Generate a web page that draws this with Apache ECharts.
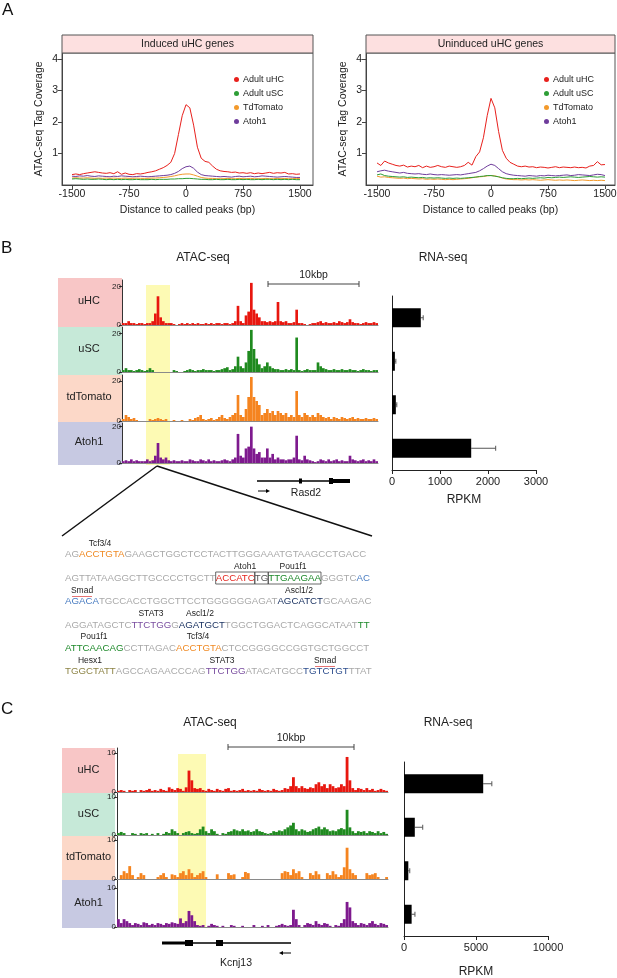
<!DOCTYPE html>
<html>
<head>
<meta charset="utf-8">
<script src="https://cdn.jsdelivr.net/npm/echarts@6/dist/echarts.min.js"></script>
<style>
  html, body { margin: 0; padding: 0; background: #fff; }
  #main { width: 617px; height: 978px; }
</style>
</head>
<body>
<div id="main"></div>
<script>
const FONT = 'Liberation Sans, Arial, sans-serif';

// ---- panel A: ATAC coverage around called peaks ----
const distBp = [
  -1500, -1450, -1400, -1350, -1300, -1250, -1200, -1150, -1100, -1050,
  -1000, -950, -900, -850, -800, -750, -700, -650, -600, -550,
  -500, -450, -400, -350, -300, -250, -200, -150, -100, -50,
  0, 50, 100, 150, 200, 250, 300, 350, 400, 450,
  500, 550, 600, 650, 700, 750, 800, 850, 900, 950,
  1000, 1050, 1100, 1150, 1200, 1250, 1300, 1350, 1400, 1450, 1500
];
const profileNames = ['Adult uHC', 'Adult uSC', 'TdTomato', 'Atoh1'];
const profileColors = ['#e8201c', '#2e9e36', '#f39a2c', '#6f3d9c'];

const inducedUHC = [
  .33, .35, .33, .36, .38, .40, .42, .40, .38, .37,
  .39, .36, .42, .34, .38, .34, .33, .36, .35, .37,
  .40, .42, .45, .50, .55, .62, .72, 1.0, 1.6, 2.2,
  2.55, 2.45, 1.9, 1.2, .85, .75, .72, .60, .50, .45,
  .43, .42, .40, .41, .38, .39, .37, .39, .36, .38,
  .36, .38, .40, .37, .39, .38, .40, .35, .36, .34, .35
];
const inducedUSC = [
  .19, .20, .19, .18, .19, .18, .18, .19, .18, .17,
  .18, .17, .18, .17, .18, .17, .17, .18, .17, .17,
  .17, .18, .17, .18, .18, .18, .19, .19, .20, .20,
  .21, .21, .20, .19, .18, .18, .17, .17, .18, .17,
  .17, .18, .17, .17, .18, .17, .18, .17, .17, .18,
  .17, .18, .18, .17, .18, .17, .18, .17, .18, .17, .17
];
const inducedTd = [
  .22, .23, .22, .22, .23, .22, .21, .22, .21, .22,
  .21, .22, .21, .21, .22, .21, .21, .22, .21, .21,
  .21, .22, .22, .23, .24, .25, .27, .29, .32, .34,
  .35, .35, .32, .28, .24, .22, .21, .21, .20, .20,
  .20, .21, .20, .20, .21, .20, .20, .21, .20, .20,
  .20, .21, .20, .20, .21, .20, .21, .20, .20, .21, .20
];
const inducedAtoh1 = [
  .28, .27, .29, .28, .30, .28, .27, .29, .28, .27,
  .26, .28, .27, .29, .28, .27, .26, .27, .28, .27,
  .26, .27, .28, .29, .30, .31, .33, .37, .43, .52,
  .58, .60, .53, .41, .33, .30, .29, .28, .27, .26,
  .27, .26, .25, .27, .28, .26, .27, .28, .26, .27,
  .29, .28, .27, .26, .25, .26, .27, .26, .25, .24, .24
];
const uninducedUHC = [
  .70, .62, .76, .70, .66, .62, .60, .63, .57, .60,
  .58, .62, .55, .60, .56, .58, .62, .58, .56, .60,
  .58, .56, .58, .62, .72, .63, .90, 1.05, 1.5, 2.2,
  2.75, 2.45, 1.7, 1.1, .85, .72, .66, .60, .58, .60,
  .57, .58, .55, .57, .56, .54, .56, .58, .55, .57,
  .56, .55, .57, .55, .56, .54, .60, .62, .74, .64, .65
];
const uninducedUSC = [
  .32, .35, .30, .28, .27, .26, .25, .26, .24, .25,
  .24, .23, .24, .22, .23, .22, .23, .22, .21, .22,
  .21, .22, .21, .22, .23, .24, .25, .27, .28, .30,
  .30, .28, .26, .23, .21, .20, .20, .21, .20, .21,
  .22, .21, .22, .23, .22, .24, .23, .24, .25, .24,
  .25, .26, .25, .24, .25, .26, .27, .26, .25, .26, .25
];
const uninducedTd = [
  .28, .25, .26, .24, .23, .22, .21, .22, .20, .21,
  .20, .19, .20, .18, .19, .18, .19, .18, .17, .18,
  .17, .18, .19, .20, .21, .23, .25, .26, .27, .29,
  .30, .29, .26, .22, .19, .18, .17, .17, .16, .17,
  .16, .17, .16, .15, .16, .17, .16, .15, .16, .15,
  .16, .15, .14, .15, .16, .15, .14, .15, .14, .15, .14
];
const uninducedAtoh1 = [
  .42, .45, .47, .44, .42, .40, .38, .40, .37, .36,
  .35, .36, .34, .33, .35, .33, .32, .33, .32, .31,
  .32, .33, .32, .34, .36, .38, .40, .45, .52, .60,
  .66, .62, .52, .42, .36, .33, .31, .30, .29, .28,
  .30, .29, .28, .30, .29, .31, .30, .29, .30, .31,
  .32, .30, .31, .33, .32, .31, .30, .32, .34, .33, .30
];
const distTicks = [-1500, -750, 0, 750, 1500];
const coverageTicks = [1, 2, 3, 4];

// ---- panel B: Rasd2 locus ----
const trackNames = ['uHC', 'uSC', 'tdTomato', 'Atoh1'];
const trackColors = ['#e8170f', '#1f8a1f', '#f5841f', '#7e1a8e'];
const trackBoxColors = ['#f8c6c6', '#c6e9d8', '#fcd8c8', '#c7c9e2'];

const rasd2HC = [
  1, 1, 2, 1, 1, 0.5, 1, 1, 0.5, 1, 1, 2,
  6, 15, 4, 2, 1, 1, 1, 0.5, 0, 0.5, 1, 0.5,
  1, 0.5, 1, 0.5, 1, 0.5, 0.5, 1, 0.5, 1, 0.5, 1,
  1, 0.5, 1, 1, 0.5, 1, 2, 10, 2, 1, 5, 7,
  22, 8, 6, 4, 2, 2, 1.5, 2, 1.5, 2, 12, 2,
  1.5, 2, 1, 1, 1.5, 8, 1, 1, 0.5, 0, 0.5, 1,
  1, 1.5, 2, 1, 1.5, 1, 1, 1.5, 1, 2, 1.5, 1,
  1.5, 3, 1.5, 1, 1, 0.5, 1, 1.5, 1, 1, 1.5, 1
];
const rasd2SC = [
  1, 2, 1, 1, 0.5, 1, 1.5, 1, 0.5, 1, 2, 1,
  0, 0, 0, 0, 0, 0, 0, 1, 0.5, 0, 0, 0.5,
  1, 1.5, 1, 0.5, 1, 1, 1.5, 1, 1, 1, 0.5, 1,
  1, 1.5, 2, 2.5, 1, 1.5, 3, 8, 3, 2, 5, 11,
  22, 12, 7, 4, 2, 3, 5, 3, 2, 1.5, 1.5, 1,
  1, 1.5, 1, 1.5, 1, 18, 1, 0.5, 1, 1.5, 1, 1,
  1, 5, 3, 2, 1.5, 1, 1, 1.5, 1, 1, 1.5, 1,
  1, 1.5, 1, 1, 0.5, 1, 1.5, 1, 1, 0.5, 1, 1
];
const rasd2Td = [
  1, 3, 2, 1, 1.5, 0.5, 0, 0, 0, 0, 1, 0.5,
  1, 1.5, 1, 0.5, 1, 0, 0, 0.5, 0, 0, 0.5, 0,
  0, 1, 0.5, 1.5, 2, 3, 1, 0.5, 1, 1.5, 0.5, 1,
  2, 3, 1.5, 1, 2, 3, 4, 13, 3, 2, 6, 12,
  22, 12, 10, 8, 3, 4, 6, 4, 5, 3, 5, 4,
  3, 4, 2, 3, 2, 15, 3, 2, 4, 3, 2, 3,
  2, 4, 3, 2, 1.5, 2, 1, 2, 1.5, 1, 2, 1.5,
  1, 1.5, 2, 1, 1.5, 1, 1, 1.5, 1, 1, 1.5, 1
];
const rasd2Atoh1 = [
  1, 1.5, 1, 2, 1, 1.5, 1, 1, 1, 2, 1, 1.5,
  4, 11, 3, 2, 3, 1.5, 1, 1.5, 1, 1, 1.5, 1,
  1, 2, 1.5, 1, 1, 2, 1.5, 1, 2, 1, 1.5, 1,
  1, 1.5, 2, 1.5, 1, 2, 3, 16, 4, 3, 8, 9,
  20, 8, 5, 6, 3, 3, 8, 3, 5, 2, 3, 2,
  2, 1.5, 2, 2, 3, 15, 2, 1.5, 4, 2, 1.5, 1,
  0.5, 1, 2, 1.5, 1, 2, 1, 1.5, 2, 1, 1.5, 1,
  1, 4, 2, 1.5, 1, 1.5, 2, 1, 1.5, 1, 2, 1
];
const rasd2Rpkm = [600, 60, 80, 1650];
const rasd2RpkmSd = [50, 20, 20, 510];
const rasd2AtacTicks = [0, 20];
const rasd2RpkmTicks = [0, 1000, 2000, 3000];

// ---- panel C: Kcnj13 locus ----
const kcnj13HC = [
  0.3, 0.5, 0.3, 0, 0.5, 0.3, 0.5, 0, 0.5, 0.3, 0.5, 0.8,
  0.3, 0.5, 0.3, 0.8, 0.5, 0.3, 1.2, 0.8, 0.5, 1, 0.8, 0.3,
  1.2, 5.5, 3, 1, 0.8, 1, 0.5, 0.3, 0.8, 0.5, 0.3, 0.8,
  0.5, 0.3, 0.8, 1, 0.3, 0.5, 0.3, 0.5, 0.8, 0.3, 0.5, 0.3,
  0.5, 0.3, 0.8, 0.5, 0.3, 0.5, 0.3, 0.8, 0.5, 0.3, 0.5, 1,
  0.8, 1.5, 3.8, 1.5, 1, 1.5, 1, 0.8, 1.2, 1, 2, 2.5,
  1.5, 2, 1, 2, 1.5, 1, 1.2, 2, 1.5, 9, 3, 1,
  0.5, 1, 0.8, 0.5, 1, 0.5, 0.8, 0.3, 0.5, 0.8, 0.5, 0.3
];
const kcnj13SC = [
  0.5, 0.8, 0.5, 0, 0, 0.5, 0.3, 0, 0.5, 0.3, 0.5, 0,
  0.3, 0, 0.5, 0, 0.3, 0.8, 0.5, 1.5, 1, 0.5, 0, 0.5,
  0.8, 1, 0.5, 0.3, 0.5, 1.5, 2.2, 1, 0.5, 1.5, 1, 0.3,
  0, 0.5, 0.3, 0.8, 1, 1.5, 1.2, 1, 1.5, 1, 1.2, 0.8,
  1, 1.5, 1, 0.8, 0.5, 0.3, 0.5, 1, 0.8, 1.2, 1, 1.5,
  2, 2.5, 3.2, 1.5, 1, 1.5, 1.2, 0.8, 1, 1.5, 1.8, 2.2,
  1.5, 2, 1.5, 1, 1.2, 1, 1.5, 1.8, 1.5, 6.6, 2, 1,
  0.5, 1, 0.8, 1, 0.5, 1, 0.8, 0.5, 1, 0.5, 0.8, 0.3
];
const kcnj13Td = [
  0, 1, 2, 1.5, 3.3, 1, 0, 0.5, 1.5, 1, 0, 0,
  0, 0, 0.5, 1, 1.5, 0.5, 0, 1.2, 1, 0.5, 1.5, 2,
  1, 2.5, 1.5, 0.5, 1, 1.5, 2, 0.5, 0, 0, 0, 1.2,
  0, 0, 0, 1.5, 1, 1.2, 0, 0, 0.5, 1.8, 1.5, 0,
  0, 0, 0, 0, 0, 0, 0, 0, 0, 0, 1.5, 2,
  1.8, 1, 2.5, 1.5, 2, 0.5, 0, 0, 1.5, 1, 2, 1.2,
  0, 0, 1.5, 1, 2, 1.2, 0.5, 1, 3, 8, 2.5, 1.5,
  1, 0, 0, 0, 1.5, 1, 1.2, 1.5, 0.5, 0, 0, 0.5
];
const kcnj13Atoh1 = [
  2, 1, 2, 1.5, 1, 0.5, 1, 0.8, 0.5, 1.2, 1, 0.5,
  0.8, 0.5, 1, 0.8, 0.5, 1, 0.8, 1.2, 1, 0.8, 2.2, 1,
  1.5, 4.1, 3, 1.5, 0.5, 0.3, 0.5, 0, 0.3, 0.8, 0.5, 0.3,
  0, 0.3, 0, 0, 0.5, 0.3, 0, 0, 0.3, 0, 0, 0,
  0.5, 0, 0, 0.3, 0, 0.5, 0, 0, 0.3, 0.5, 0.8, 0.5,
  0.3, 0.5, 4.4, 2, 0.5, 0, 0.5, 1, 0.8, 0.5, 1.5, 0.8,
  0.5, 1, 0.8, 0.3, 0, 0.5, 0.3, 1, 2, 6.4, 5, 1.5,
  1, 0.5, 1, 0.8, 0.5, 1, 1.5, 0.8, 0.5, 1, 0.8, 0.5
];
const kcnj13Rpkm = [5500, 750, 300, 530];
const kcnj13RpkmSd = [600, 550, 100, 230];
const kcnj13AtacTicks = [0, 10];
const kcnj13RpkmTicks = [0, 5000, 10000];

// ---- enhancer sequence under the highlighted Rasd2 peak ----
const seqLines = [
  [['AG', 'n'], ['ACCTGTA', 'tcf'], ['GAAGCTGGCTCCTACTTGGGAAATGTAAGCCTGACC', 'n']],
  [['AGTTATAAGGCTTGCCCCTGCTT', 'n'], ['ACCATC', 'atoh'], ['TG', 'tg'], ['TTGAAGAA', 'pou'], ['GGGTC', 'n'], ['AC', 'smad']],
  [['AGACA', 'smad'], ['TGCCACCTGGCTTCCTGGGGGGAGAT', 'n'], ['AGCATCT', 'ascl'], ['GCAAGAC', 'n']],
  [['AGGATAGCTC', 'n'], ['TTCTGG', 'stat'], ['G', 'n'], ['AGATGCT', 'ascl'], ['TGGCTGGACTCAGGCATAAT', 'n'], ['TT', 'pou']],
  [['ATTCAACAG', 'pou'], ['CCTTAGAC', 'n'], ['ACCTGTA', 'tcf'], ['CTCCGGGGCCGGTGCTGGCCT', 'n']],
  [['TGGCTATT', 'hesx'], ['AGCCAGAACCCAG', 'n'], ['TTCTGG', 'stat'], ['ATACATGCC', 'n'], ['TGTCTGT', 'smad2'], ['TTAT', 'n']]
];
const seqColors = {
  n: '#a9a9a9', tcf: '#f08a24', atoh: '#e5261f', tg: '#555555', pou: '#1f8a2b',
  smad: '#4a7dc2', ascl: '#1d3563', stat: '#7a4ea0', hesx: '#8d8446', smad2: '#2c4d8d'
};
const motifNames = ['Tcf3/4', 'Atoh1', 'Pou1f1', 'Smad', 'Ascl1/2', 'STAT3', 'Ascl1/2', 'Pou1f1', 'Tcf3/4', 'Hesx1', 'STAT3', 'Smad'];

// ------------------------------------------------------------
const chart = echarts.init(document.getElementById('main'), null, { renderer: 'canvas' });

const grids = [];
const xAxes = [];
const yAxes = [];
const series = [];
const gridBase = { containLabel: false, outerBoundsMode: 'none' };
const axisText = { color: '#222', fontFamily: FONT, formatter: v => String(v) };

function newGrid(g) {
  grids.push(Object.assign({}, gridBase, g));
  return grids.length - 1;
}

// panel A grids
const profilePanels = [
  { left: 62, width: 251, min: -1632, max: 1671, legendLeft: 234,
    data: [inducedUHC, inducedUSC, inducedTd, inducedAtoh1] },
  { left: 366, width: 249, min: -1645, max: 1632, legendLeft: 544,
    data: [uninducedUHC, uninducedUSC, uninducedTd, uninducedAtoh1] }
];
const legends = [];
profilePanels.forEach(p => {
  const gi = newGrid({ left: p.left, top: 53, width: p.width, height: 132, show: true, borderColor: '#555', borderWidth: 1 });
  xAxes.push({
    gridIndex: gi, type: 'value', min: p.min, max: p.max,
    axisLine: { show: true, onZero: false, lineStyle: { color: '#444' } },
    axisTick: { show: true, length: 4, customValues: distTicks, lineStyle: { color: '#444' } },
    axisLabel: Object.assign({ customValues: distTicks, fontSize: 10.5, margin: 4 }, axisText),
    splitLine: { show: false },
    name: 'Distance to called peaks (bp)', nameLocation: 'middle', nameGap: 20,
    nameTextStyle: { fontSize: 10.5, color: '#222', fontFamily: FONT }
  });
  yAxes.push({
    gridIndex: gi, type: 'value', min: 0, max: 4.19,
    axisLine: { show: true, onZero: false, lineStyle: { color: '#444' } },
    axisTick: { show: true, length: 4, customValues: coverageTicks, lineStyle: { color: '#444' } },
    axisLabel: Object.assign({ customValues: coverageTicks, fontSize: 10.5, margin: 4 }, axisText),
    splitLine: { show: false },
    name: 'ATAC-seq Tag Coverage', nameLocation: 'middle', nameGap: 17,
    nameTextStyle: { fontSize: 10.5, color: '#222', fontFamily: FONT }
  });
  p.data.forEach((vals, k) => {
    series.push({
      type: 'line', name: profileNames[k], xAxisIndex: gi, yAxisIndex: gi,
      data: distBp.map((d, i) => [d, vals[i]]),
      showSymbol: false, color: profileColors[k],
      lineStyle: { width: 1, color: profileColors[k] }, z: 10 - k
    });
  });
  legends.push({
    left: p.legendLeft, top: 74, orient: 'vertical', padding: 0, itemGap: 3,
    icon: 'circle', itemWidth: 5, itemHeight: 5, data: profileNames,
    textStyle: { fontSize: 9, lineHeight: 11, color: '#222', fontFamily: FONT, padding: [0, 0, 0, -1] }
  });
});

// ATAC tracks
function addTrack(left, width, top, height, max, ticks, values, color) {
  const gi = newGrid({ left, top, width, height });
  xAxes.push({
    gridIndex: gi, type: 'category', data: values.map((_, i) => i), boundaryGap: true,
    axisLine: { show: true, lineStyle: { color: '#8a8a8a', width: 1 } },
    axisTick: { show: false }, axisLabel: { show: false }, splitLine: { show: false }
  });
  yAxes.push({
    gridIndex: gi, type: 'value', min: 0, max,
    axisLine: { show: true, lineStyle: { color: '#333' } },
    axisTick: { show: true, length: 3, customValues: ticks, lineStyle: { color: '#333' } },
    axisLabel: Object.assign({ customValues: ticks, fontSize: 8, margin: 1 }, axisText),
    splitLine: { show: false }
  });
  series.push({
    type: 'bar', xAxisIndex: gi, yAxisIndex: gi, data: values,
    barCategoryGap: '0%', itemStyle: { color }, silent: true, z: 3
  });
}

const rasd2Tracks = [rasd2HC, rasd2SC, rasd2Td, rasd2Atoh1];
const rasd2Layout = [[280, 45, 23.5], [327, 45, 23.5], [375, 46, 23], [423, 40, 22]];
rasd2Tracks.forEach((vals, k) => {
  const [top, h, max] = rasd2Layout[k];
  addTrack(122, 256, top, h, max, rasd2AtacTicks, vals, trackColors[k]);
});

const kcnj13Tracks = [kcnj13HC, kcnj13SC, kcnj13Td, kcnj13Atoh1];
const kcnj13Layout = [[748, 44, 11.3], [793, 42, 11], [836, 43, 11], [880, 47, 12]];
kcnj13Tracks.forEach((vals, k) => {
  const [top, h, max] = kcnj13Layout[k];
  addTrack(117, 271, top, h, max, kcnj13AtacTicks, vals, trackColors[k]);
});

// RNA-seq bars with error bars
function addRnaBars(left, top, width, height, max, ticks, means, sds, nameGap) {
  const gi = newGrid({ left, top, width, height });
  xAxes.push({
    gridIndex: gi, type: 'value', min: 0, max,
    axisLine: { show: true, lineStyle: { color: '#222' } },
    axisTick: { show: true, length: 4, customValues: ticks, lineStyle: { color: '#222' } },
    axisLabel: Object.assign({ customValues: ticks, fontSize: 11, margin: 6 }, axisText),
    splitLine: { show: false },
    name: 'RPKM', nameLocation: 'middle', nameGap,
    nameTextStyle: { fontSize: 12, color: '#222', fontFamily: FONT }
  });
  yAxes.push({
    gridIndex: gi, type: 'category', data: trackNames, inverse: true,
    axisLine: { show: true, lineStyle: { color: '#222' } },
    axisTick: { show: false }, axisLabel: { show: false }, splitLine: { show: false }
  });
  series.push({
    type: 'bar', xAxisIndex: gi, yAxisIndex: gi, data: means,
    barWidth: 19, itemStyle: { color: '#000' }, silent: true
  });
  series.push({
    type: 'custom', xAxisIndex: gi, yAxisIndex: gi, silent: true,
    data: means.map((m, i) => [m, i, m + sds[i]]),
    encode: { x: [0, 2], y: 1 },
    renderItem: (params, api) => {
      const a = api.coord([api.value(0), api.value(1)]);
      const b = api.coord([api.value(2), api.value(1)]);
      const st = { stroke: '#555', lineWidth: 1 };
      return {
        type: 'group', children: [
          { type: 'line', shape: { x1: a[0], y1: a[1], x2: b[0], y2: b[1] }, style: st },
          { type: 'line', shape: { x1: b[0], y1: b[1] - 2.5, x2: b[0], y2: b[1] + 2.5 }, style: st }
        ]
      };
    }
  });
}
addRnaBars(392, 296, 144, 174, 3000, rasd2RpkmTicks, rasd2Rpkm, rasd2RpkmSd, 24);
addRnaBars(404, 762, 144, 174, 10000, kcnj13RpkmTicks, kcnj13Rpkm, kcnj13RpkmSd, 30);

// ---- drawn annotations ----
const g = [];
function text(x, y, str, size, opts) {
  g.push({
    type: 'text', x, y, z: 20,
    style: Object.assign({
      text: str, fontSize: size, fontFamily: FONT, fill: '#222',
      textAlign: 'center', textVerticalAlign: 'middle'
    }, opts || {})
  });
}
function rect(x, y, w, h, style, z) {
  g.push({ type: 'rect', z: z == null ? 1 : z, shape: { x, y, width: w, height: h }, style });
}
function line(x1, y1, x2, y2, width, color, z) {
  g.push({ type: 'line', z: z == null ? 20 : z, shape: { x1, y1, x2, y2 }, style: { stroke: color || '#000', lineWidth: width } });
}

// panel letters
text(2, 10, 'A', 17, { textAlign: 'left', fill: '#111' });
text(1, 248, 'B', 17, { textAlign: 'left', fill: '#111' });
text(1, 709, 'C', 17, { textAlign: 'left', fill: '#111' });

// facet strips
rect(62, 35, 251, 18, { fill: '#fde0e0', stroke: '#555', lineWidth: 1 }, 5);
text(187.5, 44, 'Induced uHC genes', 10.5);
rect(366, 35, 249, 18, { fill: '#fde0e0', stroke: '#555', lineWidth: 1 }, 5);
text(490.5, 44, 'Uninduced uHC genes', 10.5);

// titles
text(203, 258, 'ATAC-seq', 12);
text(443, 258, 'RNA-seq', 12);
text(210, 723, 'ATAC-seq', 12);
text(448, 723, 'RNA-seq', 12);

// track label boxes
const rasd2Rows = [[278, 327], [327, 375], [375, 422], [422, 465]];
const kcnj13Rows = [[748, 793], [793, 836], [836, 880], [880, 928]];
trackNames.forEach((nm, k) => {
  const r1 = rasd2Rows[k];
  rect(58, r1[0], 64, r1[1] - r1[0], { fill: trackBoxColors[k] }, 0);
  text(89, (r1[0] + r1[1]) / 2 - 2, nm, 11);
  const r2 = kcnj13Rows[k];
  rect(62, r2[0], 53, r2[1] - r2[0], { fill: trackBoxColors[k] }, 0);
  text(88.5, (r2[0] + r2[1]) / 2 - 1, nm, 11);
});

// highlighted peak regions
rect(146, 285, 24, 180, { fill: '#fdfab4' }, 0);
rect(178, 754, 28, 174, { fill: '#fdfab4' }, 0);

// 10kbp scale bars
function scaleBar(x1, x2, y, label) {
  line(x1, y, x2, y, 1, '#444');
  line(x1, y - 3, x1, y + 3, 1, '#444');
  line(x2, y - 3, x2, y + 3, 1, '#444');
  text((x1 + x2) / 2, y - 9, label, 10.5);
}
scaleBar(268, 359, 284, '10kbp');
scaleBar(228, 354, 747, '10kbp');

// gene models
line(257, 481, 350, 481, 1.5, '#000');
rect(299, 478.5, 3, 5, { fill: '#000' }, 20);
rect(329, 478, 4, 6, { fill: '#000' }, 20);
rect(333, 479, 17, 4, { fill: '#000' }, 20);
line(258, 491, 267, 491, 1, '#000');
g.push({ type: 'polygon', z: 20, shape: { points: [[266, 489], [270, 491], [266, 493]] }, style: { fill: '#000' } });
text(306, 493, 'Rasd2', 10.5);

line(162, 943, 291, 943, 1.5, '#000');
rect(162, 941.5, 23, 3, { fill: '#000' }, 20);
rect(185, 940, 8, 6, { fill: '#000' }, 20);
rect(216, 940, 7, 6, { fill: '#000' }, 20);
line(282, 953, 291, 953, 1, '#000');
g.push({ type: 'polygon', z: 20, shape: { points: [[283, 951], [279, 953], [283, 955]] }, style: { fill: '#000' } });
text(236, 963, 'Kcnj13', 10.5);

// zoom lines to the sequence
line(157, 466, 62, 536, 1.5, '#111');
line(157, 466, 372, 536, 1.5, '#111');

// sequence, with boxes measured from the rendered text
const SEQ_SIZE = 9.7;
const SEQ_X = 65;
const measure = document.createElement('canvas').getContext('2d');
measure.font = SEQ_SIZE + 'px ' + FONT;
const seqY = [554, 578, 601, 625, 648, 671];
const rich = {};
Object.keys(seqColors).forEach(k => {
  rich[k] = { fill: seqColors[k], fontSize: SEQ_SIZE, fontFamily: FONT };
});
seqLines.forEach((segs, i) => {
  g.push({
    type: 'text', x: SEQ_X, y: seqY[i], z: 20,
    style: {
      text: segs.map(s => '{' + s[1] + '|' + s[0] + '}').join(''),
      rich, fontSize: SEQ_SIZE, fontFamily: FONT, textAlign: 'left', textVerticalAlign: 'middle'
    }
  });
});
// boxed Atoh1 / TG / Pou1f1 sites on line 2
let bx = SEQ_X;
seqLines[1].forEach(s => {
  const w = measure.measureText(s[0]).width;
  if (s[1] === 'atoh' || s[1] === 'tg' || s[1] === 'pou') {
    rect(bx, seqY[1] - 6, w, 12, { fill: 'none', stroke: '#444', lineWidth: 0.8 }, 21);
  }
  bx += w;
});

// motif labels
const motifPos = [[100, 544], [245, 567], [293, 567], [82, 591], [299, 591], [151, 614],
  [200, 614], [94, 637], [198, 637], [90, 661], [222, 661], [325, 661]];
motifNames.forEach((nm, i) => text(motifPos[i][0], motifPos[i][1], nm, 8.5));
line(72, 596.5, 92, 596.5, 0.8, '#e05050');
line(315, 666.5, 335, 666.5, 0.8, '#e05050');

chart.setOption({
  animation: false,
  backgroundColor: '#fff',
  textStyle: { fontFamily: FONT },
  legend: legends,
  grid: grids,
  xAxis: xAxes,
  yAxis: yAxes,
  series,
  graphic: { elements: g }
});
</script>
</body>
</html>
